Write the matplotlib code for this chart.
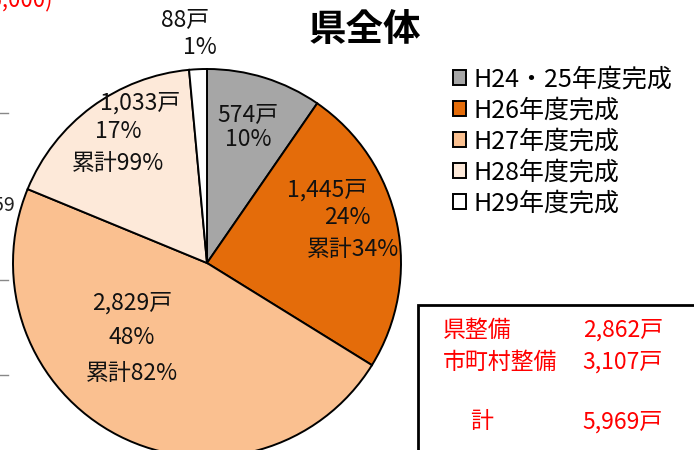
import matplotlib.pyplot as plt
from matplotlib.patches import Rectangle

plt.rcParams['font.family'] = ['Noto Sans CJK JP', 'DejaVu Sans']

# data
categories = ['H24・25年度完成', 'H26年度完成', 'H27年度完成', 'H28年度完成', 'H29年度完成']
houses = [574, 1445, 2829, 1033, 88]
percents = [10, 24, 48, 17, 1]
cumulative = [None, 34, 82, 99, None]
colors = ['#A6A6A6', '#E46C0A', '#FAC090', '#FDE9D9', '#FFFFFF']

summary_names = ['県整備', '市町村整備', '計']
summary_values = [2862, 3107, 5969]

W, H = 694, 450
CX, CY, R = 207, 263, 194

fig = plt.figure(figsize=(W / 100, H / 100), dpi=100)

def fig_xy(px, py):
    return px / W, 1 - py / H

ax = fig.add_axes([(CX - R) / W, (H - CY - R) / H, 2 * R / W, 2 * R / H])
wedges, _ = ax.pie(houses, colors=colors, startangle=90, counterclock=False,
                   wedgeprops=dict(edgecolor='black', linewidth=1.4))
ax.set_xlim(-1, 1)
ax.set_ylim(-1, 1)
ax.set_aspect('equal')

# label line positions (pixels) for each slice: house count, percent, cumulative
label_pos = [
    [(248, 115), (248, 139), None],
    [(327, 190), (347, 218), (353, 250)],
    [(132, 303), (132, 338), (132, 373)],
    [(140, 103), (118, 131), (118, 163)],
    [(185, 20), (200, 48), None],
]

for i in range(len(houses)):
    lines = [f'{houses[i]:,}戸', f'{percents[i]}%']
    if cumulative[i] is not None:
        lines.append(f'累計{cumulative[i]}%')
    for txt, pos in zip(lines, label_pos[i]):
        x, y = fig_xy(*pos)
        fig.text(x, y, txt, ha='center', va='center', fontsize=16.5, color='#111111')

# title
tx, ty = fig_xy(365, 29)
fig.text(tx, ty, '県全体', ha='center', va='center', fontsize=27, fontweight='bold')

# legend
lx, ly = fig_xy(440, 54)
fig.legend(wedges, categories, loc='upper left', bbox_to_anchor=(lx, ly),
           frameon=False, fontsize=18, handlelength=0.55, handleheight=0.55,
           handletextpad=0.3, labelspacing=0.2, borderpad=0)

# summary box
bx, by = fig_xy(418, 460)
fig.patches.append(Rectangle((bx, by), (W - 418 + 10) / W, (460 - 305) / H,
                             transform=fig.transFigure, facecolor='white',
                             edgecolor='black', linewidth=2))
name_x = [443, 443, 470]
row_y = [330, 362, 422]
for name, val, nx, ry in zip(summary_names, summary_values, name_x, row_y):
    x, y = fig_xy(nx, ry)
    fig.text(x, y, name, ha='left', va='center', fontsize=16.5, color='#FF0000')
    x, y = fig_xy(663, ry)
    fig.text(x, y, f'{val:,}戸', ha='right', va='center', fontsize=16.5, color='#FF0000')

# cut-off pieces of the neighbouring chart on the left edge
x, y = fig_xy(52, 6)
fig.text(x, y, '(6,000)', ha='right', va='baseline', fontsize=16, color='#FF0000')
x, y = fig_xy(15, 205)
fig.text(x, y, '2,859', ha='right', va='center', fontsize=14, color='#222222')
for ty_ in [113, 280, 375]:
    x0, y0 = fig_xy(0, ty_)
    x1, _ = fig_xy(8, ty_)
    fig.add_artist(plt.Line2D([x0, x1], [y0, y0], color='#888888', linewidth=1))

fig.savefig('out.png', dpi=100)
